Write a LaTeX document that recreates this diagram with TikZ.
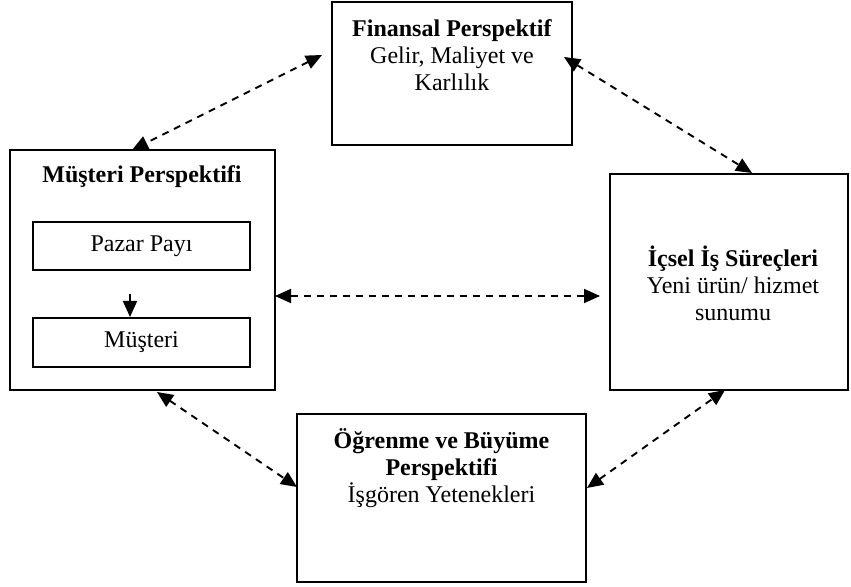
\documentclass[tikz,border=0pt]{standalone}
\usepackage{fontspec}
\setmainfont{Liberation Serif}
\usetikzlibrary{arrows.meta}

\begin{document}
\begin{tikzpicture}[x=0.5pt,y=-0.5pt,>={Triangle[length=8pt,width=7pt]},line join=miter,
  font=\fontsize{12}{13.5}\selectfont]
\useasboundingbox (0,0) rectangle (851,587);
\tikzset{box/.style={draw,line width=1pt,inner sep=0pt},
  link/.style={<->,line width=0.95pt,dash pattern=on 3.5pt off 3pt}}
% boxes
\node[box,minimum width=120pt,minimum height=71.5pt] (fin) at (452,73.5) {};
\node[box,minimum width=132.5pt,minimum height=120pt] (mus) at (142.5,270) {};
\node[box,minimum width=108.5pt,minimum height=24pt] (pazar) at (141.5,246) {Pazar Payı};
\node[box,minimum width=108.5pt,minimum height=24.5pt] (must) at (141.5,342.5) {Müşteri};
\node[box,minimum width=119pt,minimum height=108pt] (ics) at (729,282) {};
\node[box,minimum width=144.5pt,minimum height=84pt] (ogr) at (441.5,498) {};
% texts
\node[align=center,inner sep=0pt] (fintext) at (452,55) {\textbf{Finansal Perspektif}\\Gelir, Maliyet ve\\Karlılık};
\node[inner sep=0pt] (mustext) at (142,177) {\textbf{Müşteri Perspektifi}};
\node[align=center,inner sep=0pt] (icstext) at (733,283) {\textbf{İçsel İş Süreçleri}\\Yeni ürün/ hizmet\\sunumu};
\node[align=center,inner sep=0pt] (ogrtext) at (441.5,468) {\textbf{Öğrenme ve Büyüme}\\\textbf{Perspektifi}\\İşgören Yetenekleri};
% arrow ends
\coordinate (finL) at (322,55);
\coordinate (musT) at (132,150);
\coordinate (finR) at (564,57);
\coordinate (icsT) at (752,173);
\coordinate (musR) at (275,296);
\coordinate (icsL) at (600,296);
\coordinate (musB) at (157,392);
\coordinate (ogrL) at (297,487);
\coordinate (ogrR) at (587,488);
\coordinate (icsB) at (725,390);
\draw[link] (finL) -- (musT);
\draw[link] (finR) -- (icsT);
\draw[link] (musR) -- (icsL);
\draw[link] (musB) -- (ogrL);
\draw[link] (ogrR) -- (icsB);
\draw[->,line width=0.95pt,dash pattern=on 3.5pt off 3pt,shorten <=11.5pt] ([xshift=-5.75pt]pazar.south) -- ([xshift=-5.75pt]must.north);
\end{tikzpicture}
\end{document}
